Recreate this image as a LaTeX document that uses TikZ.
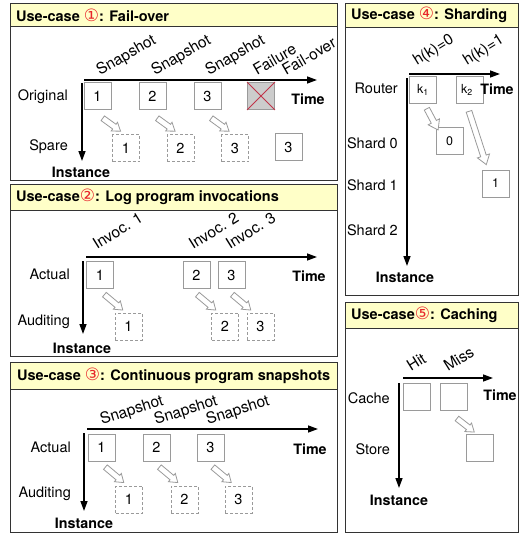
\documentclass[tikz,border=0pt]{standalone}
\usepackage{fontspec}
\setmainfont{TeX Gyre Heros}
\newfontfamily\dejavu{DejaVu Sans}
\usetikzlibrary{arrows.meta,shapes.arrows}

\definecolor{hdr}{HTML}{FFFFC8}
\definecolor{boxgray}{HTML}{9A9A9A}
\definecolor{xred}{HTML}{C0344A}
\definecolor{framegray}{HTML}{333333}
\definecolor{failfill}{HTML}{CCCCCC}
\definecolor{numred}{HTML}{E8262B}

% red circled use-case number
\newcommand\circnum[1]{{\dejavu\mdseries\fontsize{17}{17}\selectfont\color{numred}#1}}

\tikzset{
  panel/.style={draw=framegray, line width=0.9pt},
  header/.style={fill=hdr, draw=framegray, line width=0.9pt},
  title/.style={anchor=west, font=\bfseries\fontsize{14.5}{16}\selectfont, inner sep=0pt},
  lbl/.style={font=\fontsize{14.5}{16}\selectfont, inner sep=0pt},
  rowlbl/.style={lbl, anchor=east},
  axlbl/.style={font=\bfseries\fontsize{14.3}{16}\selectfont, inner sep=0pt},
  axis/.style={line width=1.4pt, -{Triangle[length=10pt,width=7pt]}},
  cell/.style={draw=boxgray, fill=white, line width=0.9pt, minimum size=27pt,
               inner sep=0pt, font=\fontsize{14.5}{16}\selectfont},
  smallcell/.style={cell, font=\fontsize{12.5}{13}\selectfont},
  ghost/.style={cell, dash pattern=on 3pt off 2pt},
  failcell/.style={cell, fill=failfill},
  tag/.style={font=\fontsize{15.5}{17}\selectfont, inner sep=0pt, anchor=base west, rotate=#1},
  hollow/.style={single arrow, draw=boxgray, fill=white, line width=0.8pt,
                 minimum width=10pt, single arrow head extend=2.5pt,
                 single arrow tip angle=70, inner sep=2.5pt},
}

\begin{document}
\begin{tikzpicture}[x=1pt, y=-1pt]
\useasboundingbox (0,0) rectangle (519,533);

% ---------- Fail-over ----------
\draw[panel] (10,3) rectangle (337,180);
\filldraw[header] (10,3) rectangle (337,26);
\node[title] (h1) at (16,15) {Use-case \circnum{①}: Fail-over};

\coordinate (t1a) at (84,80);  \coordinate (t1b) at (317,80);
\coordinate (i1a) at (82,83);  \coordinate (i1b) at (82,161);
\draw[axis] (t1a) -- (t1b);
\draw[axis] (i1a) -- (i1b);
\node[axlbl] (time1) at (308,99) {Time};
\node[axlbl] (inst1) at (81,172) {Instance};
\node[rowlbl] (orig) at (68,97) {Original};
\node[rowlbl] (spare) at (68,147) {Spare};

\node[tag=30] (s11) at (100,76) {Snapshot};
\node[tag=30] (s12) at (155,76) {Snapshot};
\node[tag=30] (s13) at (209,76) {Snapshot};
\node[tag=30] (fl) at (257,76) {Failure};
\node[tag=30] (fo) at (286,76) {Fail-over};

\node[cell] (b11) at (97.5,96) {1};
\node[cell] (b12) at (152.5,96) {2};
\node[cell] (b13) at (207.5,96) {3};
\node[failcell] (bf) at (261,96) {};
\draw[xred, line width=1pt] (bf.north west) -- (bf.south east)
                            (bf.north east) -- (bf.south west);
\node[ghost] (d11) at (126,148) {1};
\node[ghost] (d12) at (180.5,148) {2};
\node[ghost] (d13) at (235,148) {3};
\node[cell] (sp3) at (288.5,147) {3};

\node[hollow, rotate=-36, minimum height=22pt] (a11) at (110,123.5) {};
\node[hollow, rotate=-36, minimum height=22pt] (a12) at (164.5,123.5) {};
\node[hollow, rotate=-36, minimum height=22pt] (a13) at (218.5,123.5) {};

% ---------- Log program invocations ----------
\draw[panel] (10,184) rectangle (337,356);
\filldraw[header] (10,184) rectangle (337,210);
\node[title] (h2) at (16,197) {Use-case\circnum{②}: Log program invocations};

\coordinate (t2a) at (86,257);  \coordinate (t2b) at (317,257);
\coordinate (i2a) at (83,261);  \coordinate (i2b) at (83,334);
\draw[axis] (t2a) -- (t2b);
\draw[axis] (i2a) -- (i2b);
\node[axlbl] (time2) at (309,276) {Time};
\node[axlbl] (inst2) at (82,348) {Instance};
\node[rowlbl] (act2) at (70,274) {Actual};
\node[rowlbl] (aud2) at (70,322) {Auditing};

\node[tag=32] (v1) at (97,250) {Invoc. 1};
\node[tag=32] (v2) at (193,250) {Invoc. 2};
\node[tag=32] (v3) at (230,250) {Invoc. 3};

\node[cell] (b21) at (100,275) {1};
\node[cell] (b22) at (196.5,275) {2};
\node[cell] (b23) at (231.5,275) {3};
\node[ghost] (d21) at (128.5,326.5) {1};
\node[ghost] (d22) at (225,326.5) {2};
\node[ghost] (d23) at (260.5,326.5) {3};

\node[hollow, rotate=-40, minimum height=24pt] (a21) at (112,301) {};
\node[hollow, rotate=-40, minimum height=24pt] (a22) at (205,301) {};
\node[hollow, rotate=-40, minimum height=24pt] (a23) at (240,301) {};

% ---------- Continuous program snapshots ----------
\draw[panel] (10,362) rectangle (337,532);
\filldraw[header] (10,362) rectangle (337,389);
\node[title] (h3) at (17,375.5) {Use-case \circnum{③}: Continuous program snapshots};

\coordinate (t3a) at (87,429);  \coordinate (t3b) at (318,429);
\coordinate (i3a) at (84,433);  \coordinate (i3b) at (84,511);
\draw[axis] (t3a) -- (t3b);
\draw[axis] (i3a) -- (i3b);
\node[axlbl] (time3) at (310,449) {Time};
\node[axlbl] (inst3) at (84,523) {Instance};
\node[rowlbl] (act3) at (71,447) {Actual};
\node[rowlbl] (aud3) at (71,494) {Auditing};

\node[tag=18] (s31) at (102,425) {Snapshot};
\node[tag=18] (s32) at (156,425) {Snapshot};
\node[tag=18] (s33) at (208,425) {Snapshot};

\node[cell] (b31) at (101.5,447.5) {1};
\node[cell] (b32) at (156.5,447.5) {2};
\node[cell] (b33) at (210.5,447.5) {3};
\node[ghost] (d31) at (129,499.5) {1};
\node[ghost] (d32) at (184.5,499.5) {2};
\node[ghost] (d33) at (238.5,499.5) {3};

\node[hollow, rotate=-40, minimum height=24pt] (a31) at (113,473.5) {};
\node[hollow, rotate=-40, minimum height=24pt] (a32) at (167,473.5) {};
\node[hollow, rotate=-40, minimum height=24pt] (a33) at (220.5,473.5) {};

% ---------- Sharding ----------
\draw[panel] (345,3) rectangle (518,295);
\filldraw[header] (345,3) rectangle (518,27);
\node[title] (h4) at (351,15) {Use-case \circnum{④}: Sharding};

\coordinate (t4a) at (409,74);  \coordinate (t4b) at (500,74);
\coordinate (i4a) at (407,78);  \coordinate (i4b) at (407,266);
\draw[axis] (t4a) -- (t4b);
\draw[axis] (i4a) -- (i4b);
\node[rowlbl] (router) at (398,88) {Router};
\node[rowlbl] (sh0) at (398,143) {Shard 0};
\node[rowlbl] (sh1) at (398,185) {Shard 1};
\node[rowlbl] (sh2) at (398,230) {Shard 2};
\node[axlbl] (inst4) at (405,277) {Instance};

\node[tag=32] (hk0) at (417,66) {h(k)=0};
\node[tag=32] (hk1) at (467,66) {h(k)=1};

\node[smallcell] (k1) at (423,90) {k\textsubscript{1}};
\node[smallcell] (k2) at (470,90) {k\textsubscript{2}\phantom{k}};
\node[smallcell] (r0) at (449.5,141) {0};
\node[smallcell] (r1) at (495.5,183.5) {1};
\node[axlbl] (time4) at (497,89) {Time};

\node[hollow, rotate=-62, minimum height=24pt, minimum width=12pt,
      single arrow head extend=3.5pt] (a41) at (431.5,117.5) {};
\node[hollow, rotate=-72, minimum height=56pt, minimum width=12pt,
      single arrow head extend=3.5pt] (a42) at (477,136) {};

% ---------- Caching ----------
\draw[panel] (345,302) rectangle (518,532);
\filldraw[header] (345,302) rectangle (518,328);
\node[title] (h5) at (351,315) {Use-case\circnum{⑤}: Caching};

\coordinate (t5a) at (403,378);  \coordinate (t5b) at (493,378);
\coordinate (i5a) at (399,383);  \coordinate (i5b) at (399,488);
\draw[axis] (t5a) -- (t5b);
\draw[axis] (i5a) -- (i5b);
\node[axlbl] (time5) at (500,395) {Time};
\node[axlbl] (inst5) at (399,500) {Instance};
\node[rowlbl] (cache) at (390,398) {Cache};
\node[rowlbl] (store) at (390,449) {Store};

\node[tag=32] (hit) at (411,372) {Hit};
\node[tag=32] (miss) at (448,372) {Miss};

\node[cell] (c1) at (416.5,396.5) {};
\node[cell] (c2) at (453.5,396.5) {};
\node[cell] (st) at (479.5,447.5) {};

\node[hollow, rotate=-38, minimum height=22pt] (a51) at (464,424) {};
\end{tikzpicture}
\end{document}
